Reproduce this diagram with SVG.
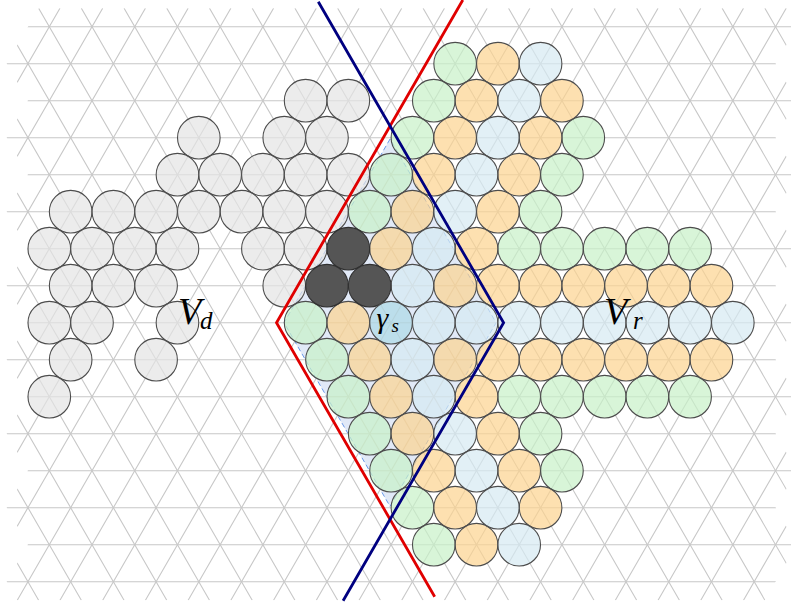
<svg xmlns="http://www.w3.org/2000/svg" width="791" height="607" viewBox="0 0 791 607">
<style>
.grid{stroke:#c8c8c8;stroke-width:1.1;fill:none}
circle{stroke:#4d4d4d;stroke-width:1.1;fill-opacity:0.7}
.g circle{fill:#e4e4e4}
.gr circle{fill:#c7f1c7}
.o circle{fill:#fcd38e}
.b circle{fill:#d6eaf2}
.d circle{fill:#555555;fill-opacity:1;stroke:#303030}
.lbl{font-family:"Liberation Serif","DejaVu Serif",serif;font-style:italic;fill:#000}
</style>
<defs>
<clipPath id="gc"><polygon points="38.62,8.2 807.6,8.2 796.9,26.7 775.54,63.7 796.9,100.7 775.54,137.7 796.9,174.7 775.54,211.7 796.9,248.7 775.54,285.7 796.9,322.7 775.54,359.7 796.9,396.7 775.54,433.7 796.9,470.7 775.54,507.7 796.9,544.7 775.54,581.7 764.86,600.2 17.3,600.2 6.64,581.7 27.94,544.7 6.64,507.7 27.94,470.7 6.64,433.7 27.94,396.7 6.64,359.7 27.94,322.7 6.64,285.7 27.94,248.7 6.64,211.7 27.94,174.7 6.64,137.7 27.94,100.7 6.64,63.7 27.94,26.7"/></clipPath>
</defs>
<rect width="791" height="607" fill="#ffffff"/>
<g id="overlap-region">
<polygon points="390.05,139 284,322.7 390.05,506.4 496.1,322.7" fill="#e1e9f7" stroke="#5a8ee6" stroke-width="0.9" stroke-dasharray="5 3"/>
</g>
<g id="grid" class="grid" clip-path="url(#gc)">
<path d="M0,26.7H800M0,63.7H800M0,100.7H800M0,137.7H800M0,174.7H800M0,211.7H800M0,248.7H800M0,285.7H800M0,322.7H800M0,359.7H800M0,396.7H800M0,433.7H800M0,470.7H800M0,507.7H800M0,544.7H800M0,581.7H800"/>
<path d="M59.98,8.2L-281.78,600.2M102.7,8.2L-239.06,600.2M145.42,8.2L-196.34,600.2M188.14,8.2L-153.62,600.2M230.86,8.2L-110.9,600.2M273.58,8.2L-68.18,600.2M316.3,8.2L-25.46,600.2M359.02,8.2L17.26,600.2M401.74,8.2L59.98,600.2M444.46,8.2L102.7,600.2M487.18,8.2L145.42,600.2M529.9,8.2L188.14,600.2M572.62,8.2L230.86,600.2M615.34,8.2L273.58,600.2M658.06,8.2L316.3,600.2M700.78,8.2L359.02,600.2M743.5,8.2L401.74,600.2M786.22,8.2L444.46,600.2M828.94,8.2L487.18,600.2M871.66,8.2L529.9,600.2M914.38,8.2L572.62,600.2M957.1,8.2L615.34,600.2M999.82,8.2L658.06,600.2M1042.54,8.2L700.78,600.2M1085.26,8.2L743.5,600.2"/>
<path d="M-303.14,8.2L38.62,600.2M-260.42,8.2L81.34,600.2M-217.7,8.2L124.06,600.2M-174.98,8.2L166.78,600.2M-132.26,8.2L209.5,600.2M-89.54,8.2L252.22,600.2M-46.82,8.2L294.94,600.2M-4.1,8.2L337.66,600.2M38.62,8.2L380.38,600.2M81.34,8.2L423.1,600.2M124.06,8.2L465.82,600.2M166.78,8.2L508.54,600.2M209.5,8.2L551.26,600.2M252.22,8.2L593.98,600.2M294.94,8.2L636.7,600.2M337.66,8.2L679.42,600.2M380.38,8.2L722.14,600.2M423.1,8.2L764.86,600.2M465.82,8.2L807.58,600.2M508.54,8.2L850.3,600.2M551.26,8.2L893.02,600.2M593.98,8.2L935.74,600.2M636.7,8.2L978.46,600.2M679.42,8.2L1021.18,600.2M722.14,8.2L1063.9,600.2M764.86,8.2L1106.62,600.2"/>
</g>
<g id="Vd-cells" class="g">
<circle cx="305.62" cy="100.7" r="21.3"/><circle cx="348.34" cy="100.7" r="21.3"/>
<circle cx="198.82" cy="137.7" r="21.3"/><circle cx="284.26" cy="137.7" r="21.3"/><circle cx="326.98" cy="137.7" r="21.3"/>
<circle cx="177.46" cy="174.7" r="21.3"/><circle cx="220.18" cy="174.7" r="21.3"/><circle cx="262.9" cy="174.7" r="21.3"/><circle cx="305.62" cy="174.7" r="21.3"/><circle cx="348.34" cy="174.7" r="21.3"/>
<circle cx="70.66" cy="211.7" r="21.3"/><circle cx="113.38" cy="211.7" r="21.3"/><circle cx="156.1" cy="211.7" r="21.3"/><circle cx="198.82" cy="211.7" r="21.3"/><circle cx="241.54" cy="211.7" r="21.3"/><circle cx="284.26" cy="211.7" r="21.3"/><circle cx="326.98" cy="211.7" r="21.3"/>
<circle cx="49.3" cy="248.7" r="21.3"/><circle cx="92.02" cy="248.7" r="21.3"/><circle cx="134.74" cy="248.7" r="21.3"/><circle cx="177.46" cy="248.7" r="21.3"/><circle cx="262.9" cy="248.7" r="21.3"/><circle cx="305.62" cy="248.7" r="21.3"/>
<circle cx="70.66" cy="285.7" r="21.3"/><circle cx="113.38" cy="285.7" r="21.3"/><circle cx="156.1" cy="285.7" r="21.3"/><circle cx="284.26" cy="285.7" r="21.3"/>
<circle cx="49.3" cy="322.7" r="21.3"/><circle cx="92.02" cy="322.7" r="21.3"/><circle cx="177.46" cy="322.7" r="21.3"/>
<circle cx="70.66" cy="359.7" r="21.3"/><circle cx="156.1" cy="359.7" r="21.3"/>
<circle cx="49.3" cy="396.7" r="21.3"/>
</g>
<g id="green-cells" class="gr">
<circle cx="455.14" cy="63.7" r="21.3"/>
<circle cx="433.78" cy="100.7" r="21.3"/>
<circle cx="412.42" cy="137.7" r="21.3"/><circle cx="583.3" cy="137.7" r="21.3"/>
<circle cx="391.06" cy="174.7" r="21.3"/><circle cx="561.94" cy="174.7" r="21.3"/>
<circle cx="369.7" cy="211.7" r="21.3"/><circle cx="540.58" cy="211.7" r="21.3"/>
<circle cx="519.22" cy="248.7" r="21.3"/><circle cx="561.94" cy="248.7" r="21.3"/><circle cx="604.66" cy="248.7" r="21.3"/><circle cx="647.38" cy="248.7" r="21.3"/><circle cx="690.1" cy="248.7" r="21.3"/>
<circle cx="305.62" cy="322.7" r="21.3"/>
<circle cx="326.98" cy="359.7" r="21.3"/>
<circle cx="348.34" cy="396.7" r="21.3"/><circle cx="519.22" cy="396.7" r="21.3"/><circle cx="561.94" cy="396.7" r="21.3"/><circle cx="604.66" cy="396.7" r="21.3"/><circle cx="647.38" cy="396.7" r="21.3"/><circle cx="690.1" cy="396.7" r="21.3"/>
<circle cx="369.7" cy="433.7" r="21.3"/><circle cx="540.58" cy="433.7" r="21.3"/>
<circle cx="391.06" cy="470.7" r="21.3"/><circle cx="561.94" cy="470.7" r="21.3"/>
<circle cx="412.42" cy="507.7" r="21.3"/>
<circle cx="433.78" cy="544.7" r="21.3"/>
</g>
<g id="orange-cells" class="o">
<circle cx="497.86" cy="63.7" r="21.3"/>
<circle cx="476.5" cy="100.7" r="21.3"/><circle cx="561.94" cy="100.7" r="21.3"/>
<circle cx="455.14" cy="137.7" r="21.3"/><circle cx="540.58" cy="137.7" r="21.3"/>
<circle cx="433.78" cy="174.7" r="21.3"/><circle cx="519.22" cy="174.7" r="21.3"/>
<circle cx="412.42" cy="211.7" r="21.3"/><circle cx="497.86" cy="211.7" r="21.3"/>
<circle cx="391.06" cy="248.7" r="21.3"/><circle cx="476.5" cy="248.7" r="21.3"/>
<circle cx="455.14" cy="285.7" r="21.3"/><circle cx="497.86" cy="285.7" r="21.3"/><circle cx="540.58" cy="285.7" r="21.3"/><circle cx="583.3" cy="285.7" r="21.3"/><circle cx="626.02" cy="285.7" r="21.3"/><circle cx="668.74" cy="285.7" r="21.3"/><circle cx="711.46" cy="285.7" r="21.3"/>
<circle cx="348.34" cy="322.7" r="21.3"/>
<circle cx="369.7" cy="359.7" r="21.3"/><circle cx="455.14" cy="359.7" r="21.3"/><circle cx="497.86" cy="359.7" r="21.3"/><circle cx="540.58" cy="359.7" r="21.3"/><circle cx="583.3" cy="359.7" r="21.3"/><circle cx="626.02" cy="359.7" r="21.3"/><circle cx="668.74" cy="359.7" r="21.3"/><circle cx="711.46" cy="359.7" r="21.3"/>
<circle cx="391.06" cy="396.7" r="21.3"/><circle cx="476.5" cy="396.7" r="21.3"/>
<circle cx="412.42" cy="433.7" r="21.3"/><circle cx="497.86" cy="433.7" r="21.3"/>
<circle cx="433.78" cy="470.7" r="21.3"/><circle cx="519.22" cy="470.7" r="21.3"/>
<circle cx="455.14" cy="507.7" r="21.3"/><circle cx="540.58" cy="507.7" r="21.3"/>
<circle cx="476.5" cy="544.7" r="21.3"/>
</g>
<g id="blue-cells" class="b">
<circle cx="540.58" cy="63.7" r="21.3"/>
<circle cx="519.22" cy="100.7" r="21.3"/>
<circle cx="497.86" cy="137.7" r="21.3"/>
<circle cx="476.5" cy="174.7" r="21.3"/>
<circle cx="455.14" cy="211.7" r="21.3"/>
<circle cx="433.78" cy="248.7" r="21.3"/>
<circle cx="412.42" cy="285.7" r="21.3"/>
<circle cx="433.78" cy="322.7" r="21.3"/><circle cx="476.5" cy="322.7" r="21.3"/><circle cx="519.22" cy="322.7" r="21.3"/><circle cx="561.94" cy="322.7" r="21.3"/><circle cx="604.66" cy="322.7" r="21.3"/><circle cx="647.38" cy="322.7" r="21.3"/><circle cx="690.1" cy="322.7" r="21.3"/><circle cx="732.82" cy="322.7" r="21.3"/>
<circle cx="412.42" cy="359.7" r="21.3"/>
<circle cx="433.78" cy="396.7" r="21.3"/>
<circle cx="455.14" cy="433.7" r="21.3"/>
<circle cx="476.5" cy="470.7" r="21.3"/>
<circle cx="497.86" cy="507.7" r="21.3"/>
<circle cx="519.22" cy="544.7" r="21.3"/>
</g>
<g id="dark-cells" class="d">
<circle cx="348.34" cy="248.7" r="21.3"/>
<circle cx="326.98" cy="285.7" r="21.3"/><circle cx="369.7" cy="285.7" r="21.3"/>
</g>
<g id="gamma-s">
<circle cx="391.06" cy="322.7" r="21.3" fill="#add8e6" fill-opacity="1" stroke="#1a1a1a" stroke-width="1.3"/>
<text class="lbl" x="376.5" y="327.5" font-size="30">γ</text><text class="lbl" x="391.5" y="331.5" font-size="19">s</text>
</g>
<g id="connectors" fill="none" stroke-width="2.8" stroke-linejoin="miter">
<path d="M462.8,0L276.5,322.7L434.7,596.7" stroke="#e00000"/>
<path d="M318.3,1.7L503.6,322.7L343.1,600.7" stroke="#000080"/>
</g>
<g id="labels">
<text class="lbl" x="178" y="323.5" font-size="38">V</text><text class="lbl" x="200" y="328.5" font-size="25">d</text>
<text class="lbl" x="604" y="323.5" font-size="38">V</text><text class="lbl" x="633" y="328.5" font-size="25">r</text>
</g>
</svg>
